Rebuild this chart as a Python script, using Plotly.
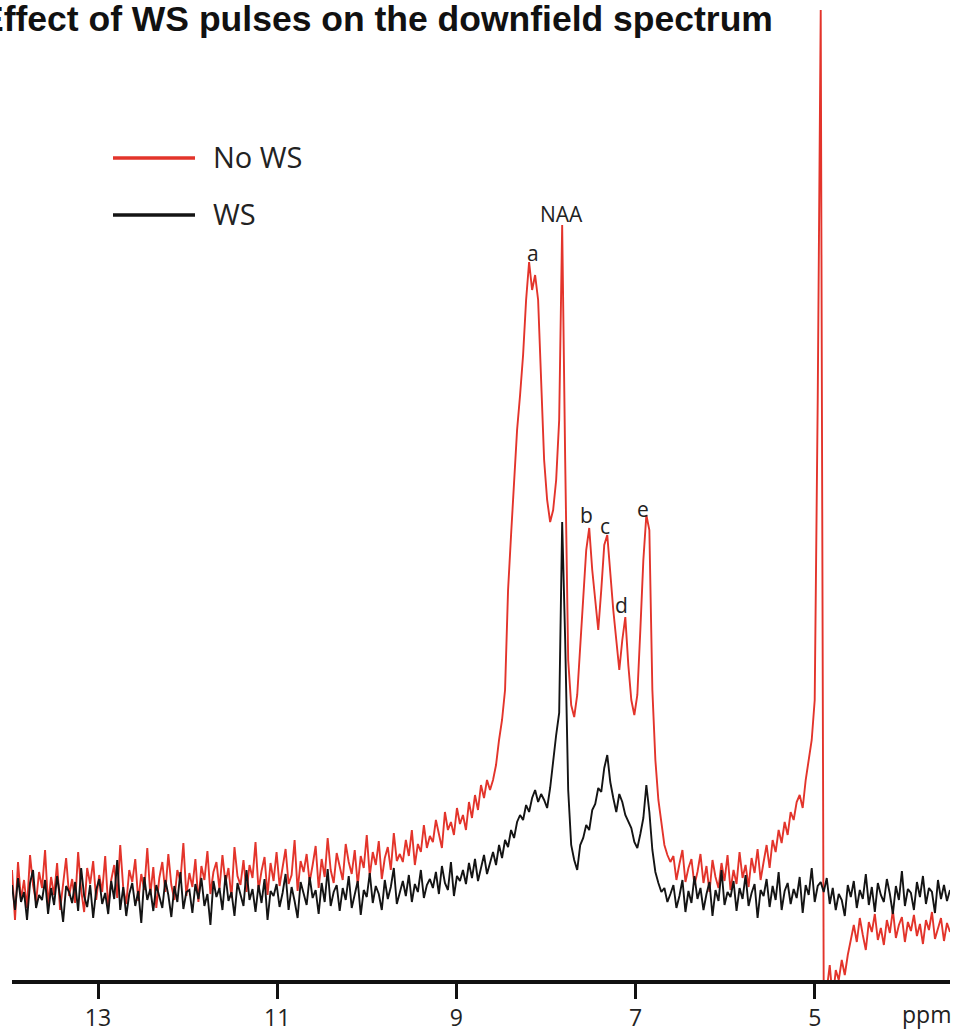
import numpy as np
import plotly.graph_objects as go

# Spectral axis (ppm), evenly sampled from left edge to right edge of the spectrum
ppm_start, ppm_end = 13.96, 3.49

# Intensities (arbitrary units)
ws = [
    95, 70, 102, 78, 88, 60, 97, 110, 72, 85,
    80, 100, 66, 92, 75, 104, 83, 58, 94, 88,
    77, 98, 69, 112, 84, 73, 95, 62, 90, 101,
    76, 87, 66, 99, 81, 120, 70, 93, 64, 86,
    97, 74, 89, 57, 103, 80, 91, 69, 95, 82,
    72, 100, 85, 63, 94, 78, 108, 71, 88, 90,
    67, 96, 81, 102, 74, 86, 55, 99, 83, 92,
    70, 105, 79, 88, 64, 97, 85, 74, 110, 80,
    91, 68, 95, 77, 101, 60, 89, 84, 96, 73,
    87, 106, 70, 93, 79, 62, 98, 85, 75, 103,
    82, 90, 66, 97, 78, 111, 74, 88, 95, 69,
    92, 80, 104, 72, 86, 99, 65, 90, 83, 107,
    77, 94, 86, 70, 100, 81, 93, 112, 76, 89,
    99, 84, 105, 78, 96, 88, 110, 82, 95, 101,
    92, 108, 86, 114, 97, 90, 118, 84, 104, 99,
    110, 96, 117, 102, 121, 99, 113, 125, 106, 118,
    128, 115, 135, 122, 140, 133, 150, 142, 158, 165,
    160, 175, 168, 182, 190, 178, 186, 180, 172, 192,
    220, 245, 267, 458, 340, 190, 135, 120, 110, 135,
    142, 155, 150, 170, 176, 192, 188, 212, 225, 198,
    182, 168, 186, 178, 165, 158, 152, 138, 132, 146,
    162, 195, 168, 130, 108, 97, 88, 92, 78, 86,
    95, 72, 84, 100, 68, 89, 77, 104, 81, 92,
    70, 86, 98, 64, 90, 79, 110, 75, 88, 83,
    99, 69, 92, 81, 105, 74, 87, 96, 62, 90,
    84, 101, 73, 94, 80, 108, 70, 89, 97, 76,
    91, 82, 103, 67, 95, 85, 112, 78, 94, 98,
    88, 102, 76, 92, 70, 86, 80, 64, 95, 83,
    99, 72, 90, 81, 106, 75, 93, 68, 97, 85,
    78, 101, 86, 66, 94, 80, 109, 74, 91, 87,
    70, 98, 83, 104, 76, 92, 88, 67, 100, 81, 95, 79, 90,
]

no_ws = [
    110, 60, 118, 80, 100, 72, 125, 95, 78, 108,
    92, 130, 75, 103, 85, 117, 70, 98, 122, 84,
    101, 77, 128, 90, 68, 112, 96, 119, 80, 105,
    88, 124, 73, 100, 115, 82, 135, 92, 76, 110,
    98, 121, 79, 106, 90, 132, 85, 113, 72, 102,
    118, 88, 126, 95, 80, 110, 99, 137, 84, 107,
    93, 121, 78, 114, 100, 129, 86, 108, 118, 91,
    125, 97, 112, 82, 133, 104, 95, 120, 88, 115,
    102, 138, 90, 109, 123, 85, 117, 99, 128, 94,
    112, 131, 96, 105, 140, 89, 119, 108, 126, 98,
    115, 134, 92, 121, 103, 142, 110, 97, 127, 113,
    100, 136, 118, 106, 130, 95, 124, 112, 145, 104,
    128, 115, 139, 101, 122, 133, 110, 147, 119, 126,
    118, 140, 124, 150, 115, 136, 128, 155, 132, 144,
    138, 160, 146, 132, 168, 150, 158, 145, 172, 156,
    165, 150, 178, 162, 185, 170, 195, 182, 200, 190,
    200, 215, 240, 260, 290, 390, 445, 503, 550, 585,
    625, 680, 718, 690, 705, 680, 600, 520, 480, 458,
    470, 500, 560, 755, 520, 320, 275, 263, 285, 330,
    380, 430, 452, 410, 380, 350, 390, 435, 445, 405,
    370, 340, 310, 340, 363, 315, 280, 265, 285, 350,
    420, 465, 450, 290, 220, 180, 155, 135, 125, 118,
    124, 100, 116, 130, 98, 112, 121, 95, 108, 126,
    97, 114, 88, 120, 103, 92, 117, 99, 125, 90,
    110, 96, 128, 102, 115, 93, 122, 107, 131, 100,
    118, 135, 112, 140, 128, 150, 137, 158, 145, 168,
    160, 178, 185, 172, 200, 220, 240, 280, 580, 970,
    -20, -10, 15, -20, 10, 0, 20, 5, 25, 40,
    55, 38, 62, 45, 30, 58, 48, 66, 40, 52,
    35, 60, 47, 70, 42, 55, 63, 38, 58, 49,
    65, 44, 56, 36, 60, 50, 68, 41, 53, 62, 39, 57, 48,
]

ppm = np.linspace(ppm_start, ppm_end, len(ws))

tick_vals = [13, 11, 9, 7, 5]
tick_text = ["13", "11", "9", "7", "5"]

peak_labels = ["NAA", "a", "b", "c", "d", "e"]
peak_ppm = [7.83, 8.15, 7.55, 7.34, 7.16, 6.92]
peak_y = [766, 727, 465, 454, 375, 471]

RED = "#E3342B"
BLACK = "#141414"
LABEL_FONT = "Open Sans"

fig = go.Figure()
fig.add_trace(go.Scatter(x=ppm, y=no_ws, mode="lines", name="No WS",
                         line=dict(color=RED, width=1.9), showlegend=False))
fig.add_trace(go.Scatter(x=ppm, y=ws, mode="lines", name="WS",
                         line=dict(color=BLACK, width=1.9), showlegend=False))

for t, px_, py_ in zip(peak_labels, peak_ppm, peak_y):
    fig.add_annotation(x=px_, y=py_, xref="x", yref="y", text=t, showarrow=False,
                       xanchor="center", yanchor="middle",
                       font=dict(family=LABEL_FONT, size=21, color="#222"))

# Legend drawn manually (long line samples)
W, H, L, B = 938, 980, 12, 980
def px(x):
    return (x - L) / W
def py(y):
    return (B - y) / H

for name, col, yy in [("No WS", RED, 158), ("WS", BLACK, 215)]:
    fig.add_shape(type="line", xref="paper", yref="paper",
                  x0=px(113), x1=px(195), y0=py(yy), y1=py(yy),
                  line=dict(color=col, width=3.5))
    fig.add_annotation(xref="paper", yref="paper", x=px(211), y=py(yy - 2),
                       text=name, showarrow=False, xanchor="left", yanchor="middle",
                       font=dict(family=LABEL_FONT, size=29, color="#222"))

# Title (partly cut at the left edge as in the original)
fig.add_annotation(xref="paper", yref="paper", x=px(-22), y=1.0, yshift=3,
                   text="<b>Effect of WS pulses on the downfield spectrum</b>",
                   showarrow=False, xanchor="left", yanchor="top",
                   font=dict(family="Liberation Sans, Arial", size=35.5, color="#111"))

# ppm unit label
fig.add_annotation(xref="paper", yref="paper", x=px(953), y=py(1014),
                   text="ppm", showarrow=False, xanchor="right", yanchor="middle",
                   font=dict(family=LABEL_FONT, size=23, color="#222"))

fig.update_layout(
    width=956, height=1034,
    margin=dict(l=12, r=6, t=0, b=54),
    paper_bgcolor="white", plot_bgcolor="white",
    xaxis=dict(range=[ppm_start, ppm_end], showline=True, linecolor="#111", linewidth=3.5,
               ticks="outside", ticklen=15, tickwidth=2.5, tickcolor="#111",
               tickvals=tick_vals, ticktext=tick_text, showgrid=False, zeroline=False,
               tickfont=dict(family=LABEL_FONT, size=23, color="#222")),
    yaxis=dict(range=[0, 980], visible=False, showgrid=False, zeroline=False),
)

fig.write_html("out.html", config={"displayModeBar": False},
               post_script="document.body.style.margin='0';")
